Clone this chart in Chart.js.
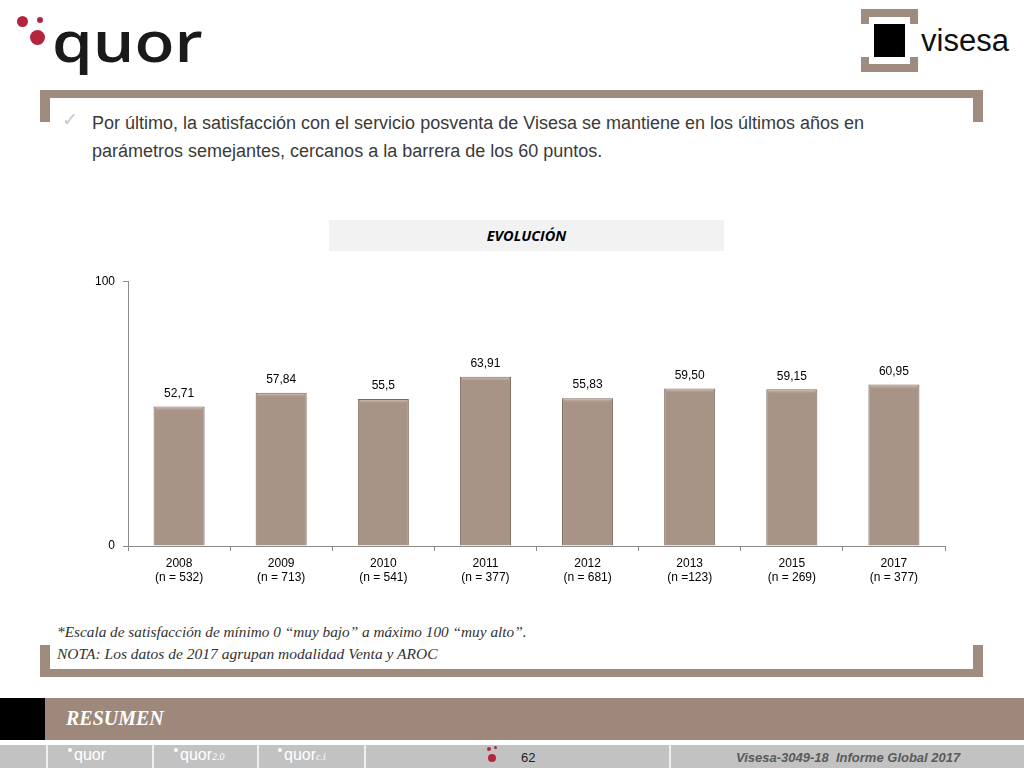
<!DOCTYPE html>
<html>
<head>
<meta charset="utf-8">
<script src="https://cdn.jsdelivr.net/npm/chart.js@4.4.0/dist/chart.umd.min.js"></script>
<style>
  html,body{margin:0;padding:0;background:#fff;}
  body{width:1024px;height:768px;position:relative;overflow:hidden;font-family:"Liberation Sans",Arial,sans-serif;}
  .abs{position:absolute;}
  .brown{background:#a08b7f;}
</style>
</head>
<body>
<script>
const categories = ["2008","2009","2010","2011","2012","2013","2015","2017"];
const sampleSizes = ["(n = 532)","(n = 713)","(n = 541)","(n = 377)","(n = 681)","(n =123)","(n = 269)","(n = 377)"];
const satisfaction = [52.71, 57.84, 55.5, 63.91, 55.83, 59.50, 59.15, 60.95];
const valueLabels = ["52,71","57,84","55,5","63,91","55,83","59,50","59,15","60,95"];
const yTicks = [0, 100];
</script>

<!-- quor logo -->
<div class="abs" style="left:17px;top:16px;width:11px;height:11px;border-radius:50%;background:#b5243f;"></div>
<div class="abs" style="left:37px;top:17px;width:6px;height:6px;border-radius:50%;background:#b5243f;"></div>
<div class="abs" style="left:30px;top:30px;width:15px;height:15px;border-radius:50%;background:#b5243f;"></div>
<div class="abs" style="left:52px;top:8px;font-family:'Open Sans',sans-serif;font-weight:600;font-size:56px;color:#1a1a1a;line-height:64px;transform:scaleX(1.17);transform-origin:0 0;">quor</div>

<!-- visesa logo -->
<div class="abs" style="left:861px;top:9px;width:57px;height:63px;background:#a08b7f;"></div>
<div class="abs" style="left:869px;top:17px;width:41px;height:47px;background:#fff;"></div>
<div class="abs" style="left:861px;top:24px;width:57px;height:33px;background:#fff;"></div>
<div class="abs" style="left:874px;top:24px;width:31px;height:33px;background:#000;"></div>
<div class="abs" style="left:921px;top:23px;font-family:'Liberation Sans',Arial,sans-serif;font-size:31px;color:#111;line-height:36px;">visesa</div>

<!-- top frame -->
<div class="abs brown" style="left:40px;top:90px;width:943px;height:8px;"></div>
<div class="abs brown" style="left:40px;top:90px;width:10px;height:32px;"></div>
<div class="abs brown" style="left:973px;top:90px;width:10px;height:32px;"></div>

<div class="abs" style="left:62px;top:108px;font-size:19px;color:#c8c8c8;">&#10003;</div>
<div class="abs" style="left:92px;top:109px;width:866px;font-size:18px;line-height:28px;color:#3a3a3a;">Por último, la satisfacción con el servicio posventa de Visesa se mantiene en los últimos años en parámetros semejantes, cercanos a la barrera de los 60 puntos.</div>

<!-- EVOLUCION header -->
<div class="abs" style="left:329px;top:220px;width:395px;height:31px;background:#f2f2f2;text-align:center;line-height:31px;font-weight:bold;font-style:italic;font-size:14.5px;color:#000;font-family:'Open Sans',sans-serif;">EVOLUCIÓN</div>

<div class="abs" style="left:80px;top:266px;width:880px;height:330px;">
  <canvas id="c" width="880" height="330"></canvas>
</div>

<!-- notes -->
<div class="abs" style="left:57px;top:623px;font-family:'Liberation Serif','DejaVu Serif',serif;font-style:italic;font-size:15.3px;color:#333;">*Escala de satisfacción de mínimo 0 “muy bajo” a máximo 100 “muy alto”.</div>
<div class="abs" style="left:57px;top:645px;font-family:'Liberation Serif','DejaVu Serif',serif;font-style:italic;font-size:15.5px;color:#333;">NOTA: Los datos de 2017 agrupan modalidad Venta y AROC</div>

<!-- bottom frame -->
<div class="abs brown" style="left:40px;top:645px;width:10px;height:32px;"></div>
<div class="abs brown" style="left:973px;top:645px;width:10px;height:32px;"></div>
<div class="abs brown" style="left:40px;top:669px;width:943px;height:8px;"></div>

<!-- footer -->
<div class="abs" style="left:0;top:698px;width:45px;height:42px;background:#000;"></div>
<div class="abs" style="left:45px;top:698px;width:979px;height:42px;background:#9e887c;"></div>
<div class="abs" style="left:66px;top:707px;font-family:'Liberation Serif',serif;font-style:italic;font-weight:bold;font-size:20px;color:#fff;">RESUMEN</div>
<div class="abs" style="left:0;top:745px;width:1024px;height:23px;background:#c2c2c2;"></div>
<div class="abs" style="left:46px;top:745px;width:2px;height:23px;background:#eee;"></div>
<div class="abs" style="left:152px;top:745px;width:2px;height:23px;background:#eee;"></div>
<div class="abs" style="left:257px;top:745px;width:2px;height:23px;background:#eee;"></div>
<div class="abs" style="left:364px;top:745px;width:2px;height:23px;background:#eee;"></div>
<div class="abs" style="left:669px;top:745px;width:2px;height:23px;background:#eee;"></div>
<div class="abs" style="left:74px;top:746px;font-size:16px;color:#fff;">quor</div>
<div class="abs" style="left:180px;top:746px;font-size:16px;color:#fff;">quor<span style="font-size:10px;font-family:'Liberation Serif',serif;font-style:italic;">2.0</span></div>
<div class="abs" style="left:284px;top:746px;font-size:16px;color:#fff;">quor<span style="font-size:10px;font-family:'Liberation Serif',serif;font-style:italic;">c.i</span></div>
<div class="abs" style="left:68px;top:748px;width:4px;height:4px;border-radius:50%;background:#fff;"></div>
<div class="abs" style="left:174px;top:748px;width:4px;height:4px;border-radius:50%;background:#fff;"></div>
<div class="abs" style="left:278px;top:748px;width:4px;height:4px;border-radius:50%;background:#fff;"></div>
<div class="abs" style="left:487px;top:747px;width:4px;height:4px;border-radius:50%;background:#b5243f;"></div>
<div class="abs" style="left:494px;top:746px;width:3px;height:3px;border-radius:50%;background:#b5243f;"></div>
<div class="abs" style="left:488px;top:754px;width:8px;height:8px;border-radius:50%;background:#b5243f;"></div>
<div class="abs" style="left:521px;top:750px;font-size:13px;color:#222;">62</div>
<div class="abs" style="left:736px;top:750px;font-size:13px;font-style:italic;font-weight:bold;color:#5a5a5a;">Visesa-3049-18&nbsp; Informe Global 2017</div>

<script>
const valueLabelPlugin = {
  id: 'valueLabels',
  afterDatasetsDraw(chart) {
    const ctx = chart.ctx;
    const meta = chart.getDatasetMeta(0);
    ctx.save();
    ctx.font = '12px "Liberation Sans", Arial, sans-serif';
    ctx.fillStyle = '#000';
    ctx.textAlign = 'center';
    ctx.textBaseline = 'bottom';
    meta.data.forEach((bar, i) => {
      ctx.fillText(valueLabels[i], bar.x, bar.y - 7);
    });
    ctx.restore();
  }
};

const ctx = document.getElementById('c').getContext('2d');
function barGradient(context) {
  const chart = context.chart;
  const el = context.element;
  if (!el || el.width === undefined) return '#a79487';
  const x0 = el.x - el.width / 2, x1 = el.x + el.width / 2;
  const g = chart.ctx.createLinearGradient(x0, 0, x1, 0);
  g.addColorStop(0, '#7f6d62');
  g.addColorStop(0.1, '#a69386');
  g.addColorStop(0.9, '#a69386');
  g.addColorStop(1, '#7f6d62');
  return g;
}
const topHighlight = {
  id: 'topHighlight',
  afterDatasetsDraw(chart) {
    const c = chart.ctx;
    const meta = chart.getDatasetMeta(0);
    c.save();
    meta.data.forEach(bar => {
      const x0 = bar.x - bar.width / 2 + 2, x1 = bar.x + bar.width / 2 - 2;
      const g = c.createLinearGradient(0, bar.y, 0, bar.y + 5);
      g.addColorStop(0, 'rgba(240,215,200,0.9)');
      g.addColorStop(1, 'rgba(166,147,134,0)');
      c.fillStyle = g;
      c.fillRect(x0, bar.y + 1, x1 - x0, 5);
    });
    c.restore();
  }
};

new Chart(ctx, {
  type: 'bar',
  data: {
    labels: categories.map((c, i) => [c, sampleSizes[i]]),
    datasets: [{
      data: satisfaction,
      backgroundColor: barGradient,
      borderColor: '#7a685d',
      borderWidth: 1,
      barPercentage: 0.5,
      categoryPercentage: 1.0
    }]
  },
  options: {
    responsive: false,
    animation: false,
    events: [],
    layout: { padding: { top: 10, right: 15, left: 0, bottom: 0 } },
    plugins: { legend: { display: false }, tooltip: { enabled: false } },
    scales: {
      y: {
        min: 0, max: 100,
        afterBuildTicks(scale) { scale.ticks = yTicks.map(v => ({ value: v })); },
        afterFit(scale) { scale.width = 48; },
        border: { color: '#8a8a8a', width: 1 },
        grid: { drawOnChartArea: false, drawTicks: true, tickLength: 5, color: '#8a8a8a' },
        ticks: { color: '#000', font: { size: 12, family: '"Liberation Sans", Arial, sans-serif' }, padding: 8 }
      },
      x: {
        border: { color: '#8a8a8a', width: 1 },
        grid: { offset: true, drawOnChartArea: false, drawTicks: true, tickLength: 5, color: '#8a8a8a' },
        ticks: { color: '#000', font: { size: 12, family: '"Liberation Sans", Arial, sans-serif', lineHeight: 1.15 }, padding: 6, maxRotation: 0 },
        afterFit(scale) { scale.height = 50; }
      }
    }
  },
  plugins: [valueLabelPlugin, topHighlight]
});
</script>
</body>
</html>
